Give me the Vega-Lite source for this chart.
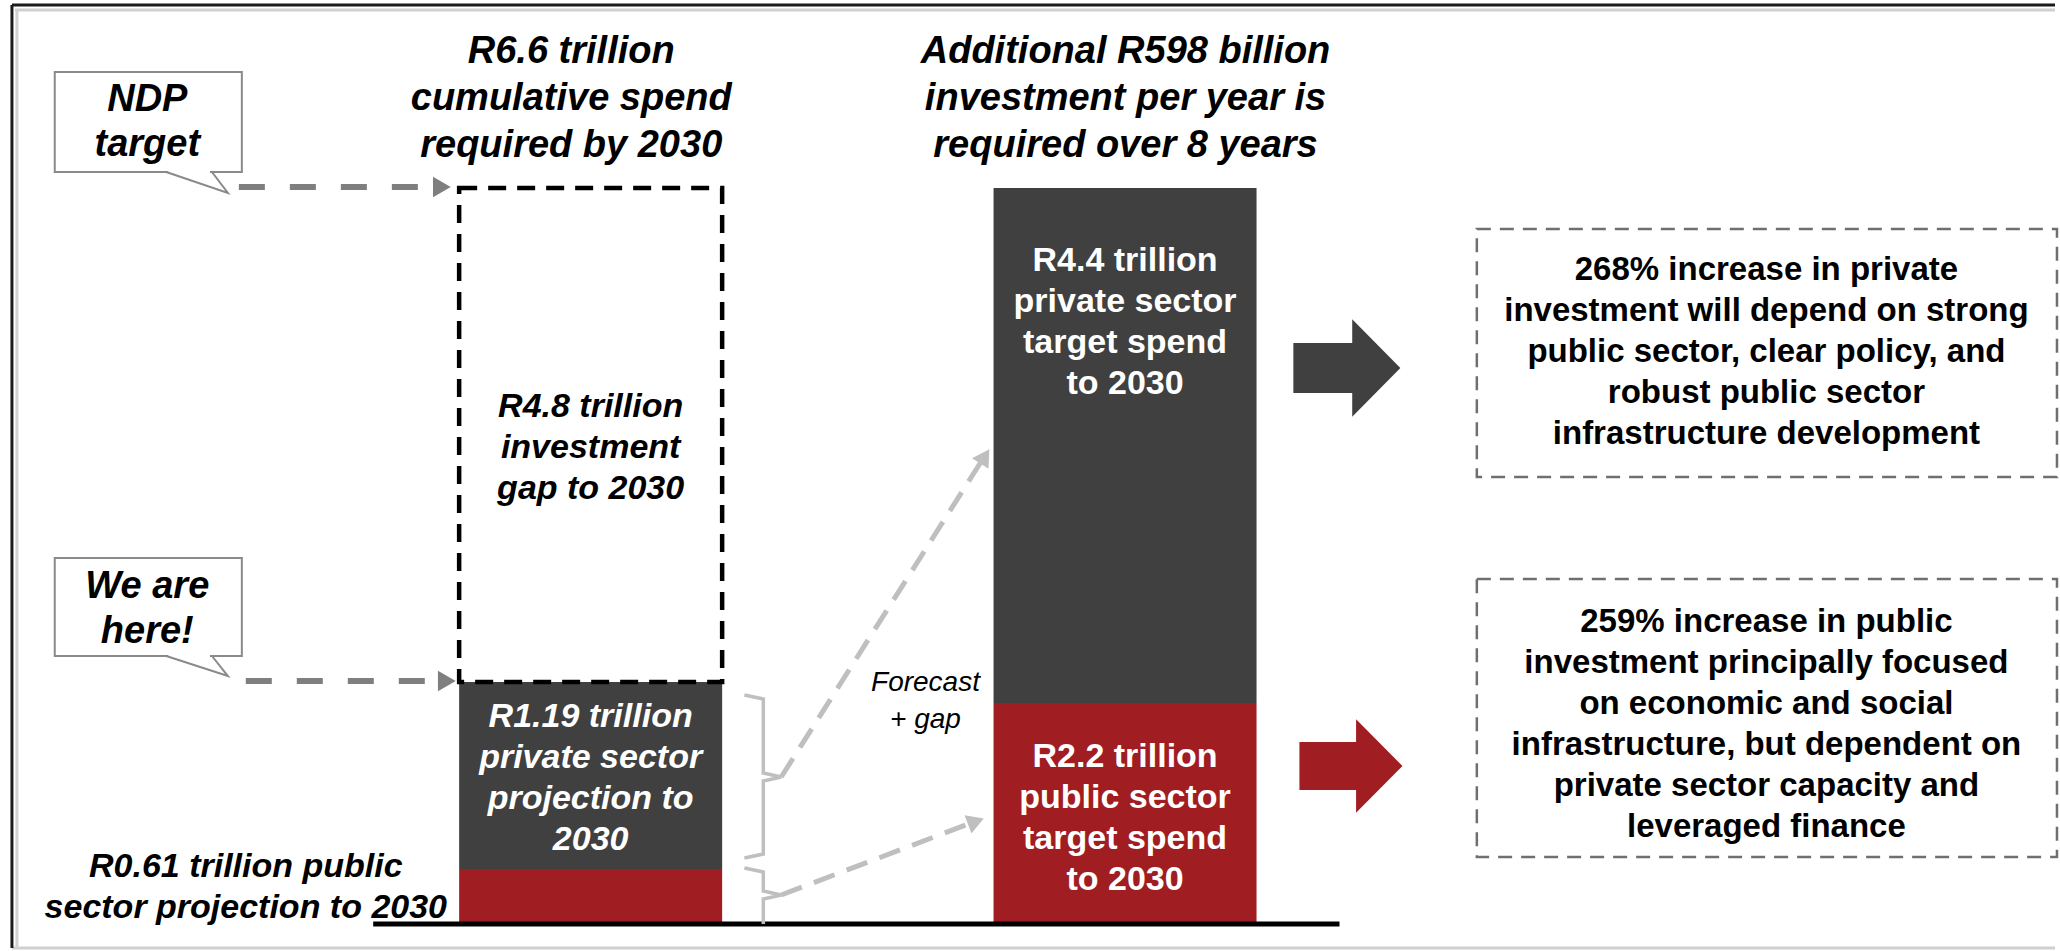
{
  "$schema": "https://vega.github.io/schema/vega-lite/v6.json",
  "width": 2060,
  "height": 951,
  "padding": 0,
  "autosize": {"type": "none"},
  "background": "#ffffff",
  "config": {"view": {"stroke": null}, "font": "Liberation Sans"},
  "datasets": {
    "frameShadow": [
      {"x": -0.0773, "x2": 3.7402, "y": 8.1962, "y2": 8.1962},
      {"x": -0.0736, "x2": -0.0736, "y": 8.1962, "y2": -0.2152},
      {"x": -0.0829, "x2": 3.7402, "y": -0.2152, "y2": -0.2152}
    ],
    "frame": [
      {"x": -0.0829, "x2": 3.7402, "y": 8.241, "y2": 8.241},
      {"x": -0.0829, "x2": -0.0829, "y": 8.241, "y2": -0.2152}
    ],
    "rightBoxes": [
      {"box": "private", "x": 2.6583, "x2": 3.7439, "y": 6.2323, "y2": 4.0084},
      {"box": "public", "x": 2.6583, "x2": 3.7439, "y": 3.0938, "y2": 0.6008}
    ],
    "blockArrows": [
      {"id": "Private sector", "x": 2.4151, "y": 4.9859, "length": 107},
      {"id": "Public sector", "x": 2.4227, "y": 1.4169, "length": 103}
    ],
    "bars": [
      {"bar": 1, "segment": "Public sector", "order": 1, "value": 0.493},
      {"bar": 1, "segment": "Private sector", "order": 2, "value": 1.677},
      {"bar": 1, "segment": "Investment gap", "order": 3, "value": 4.43},
      {"bar": 2, "segment": "Public sector", "order": 1, "value": 1.982},
      {"bar": 2, "segment": "Private sector", "order": 2, "value": 4.618}
    ],
    "baseline": [{"x": 0.5931, "x2": 2.4013, "y": 0}],
    "braces": [
      {"id": "private", "o": 1, "x": 1.2877, "y": 2.0535},
      {"id": "private", "o": 2, "x": 1.3231, "y": 2.0177},
      {"id": "private", "o": 3, "x": 1.3231, "y": 1.3541},
      {"id": "private", "o": 4, "x": 1.3566, "y": 1.3182},
      {"id": "private", "o": 5, "x": 1.3231, "y": 1.2823},
      {"id": "private", "o": 6, "x": 1.3231, "y": 0.6277},
      {"id": "private", "o": 7, "x": 1.2877, "y": 0.5918},
      {"id": "public", "o": 1, "x": 1.2877, "y": 0.5022},
      {"id": "public", "o": 2, "x": 1.3231, "y": 0.4663},
      {"id": "public", "o": 3, "x": 1.3231, "y": 0.2959},
      {"id": "public", "o": 4, "x": 1.3566, "y": 0.2601},
      {"id": "public", "o": 5, "x": 1.3231, "y": 0.2242},
      {"id": "public", "o": 6, "x": 1.3231, "y": 0.0}
    ],
    "lightArrows": [
      {"x": 1.3566, "y": 1.3182, "x2": 1.7291, "y2": 4.134},
      {"x": 1.3566, "y": 0.2601, "x2": 1.7067, "y2": 0.8967}
    ],
    "headUpper": [{"x": 1.7376, "y": 4.1932}],
    "headLower": [{"x": 1.7209, "y": 0.9192}],
    "callouts": [
      {"x": -0.0028, "x2": 0.3473, "y": 7.6402, "y2": 6.7435},
      {"x": -0.0028, "x2": 0.3473, "y": 3.2821, "y2": 2.4033}
    ],
    "tailCovers": [
      {"x": 0.2095, "x2": 0.2877, "y": 6.7435},
      {"x": 0.2095, "x2": 0.2877, "y": 2.4033}
    ],
    "tails": [
      {"id": "a", "o": 1, "x": 0.2058, "y": 6.7435},
      {"id": "a", "o": 2, "x": 0.3212, "y": 6.5552},
      {"id": "a", "o": 3, "x": 0.2914, "y": 6.7435},
      {"id": "b", "o": 1, "x": 0.2058, "y": 2.4033},
      {"id": "b", "o": 2, "x": 0.3212, "y": 2.2239},
      {"id": "b", "o": 3, "x": 0.2914, "y": 2.4033}
    ],
    "grayArrows": [
      {"x": 0.3417, "x2": 0.7086, "y": 6.609},
      {"x": 0.3547, "x2": 0.7179, "y": 2.1791}
    ],
    "grayHeads": [
      {"x": 0.7216, "y": 6.609},
      {"x": 0.7309, "y": 2.1791}
    ],
    "labels": [
      {"group": "title", "label": "R6.6 trillion\ncumulative spend\nrequired by 2030", "x": 0.9637, "y": 7.8196},
      {"group": "title", "label": "Additional R598 billion\ninvestment per year is\nrequired over 8 years", "x": 2.0009, "y": 7.8196},
      {"group": "callout", "label": "NDP\ntarget", "x": 0.1704, "y": 7.3891},
      {"group": "callout", "label": "We are\nhere!", "x": 0.1704, "y": 3.022},
      {"group": "leftWhite", "label": "R1.19 trillion\nprivate sector\nprojection to\n2030", "x": 1.0, "y": 1.8563},
      {"group": "leftBlack", "label": "R4.8 trillion\ninvestment\ngap to 2030", "x": 1.0, "y": 4.6362},
      {"group": "leftBlack", "label": "R0.61 trillion public\nsector projection to 2030", "x": 0.3547, "y": 0.5111},
      {"group": "rightWhite", "label": "R4.4 trillion\nprivate sector\ntarget spend\nto 2030", "x": 2.0, "y": 5.9454},
      {"group": "rightWhite", "label": "R2.2 trillion\npublic sector\ntarget spend\nto 2030", "x": 2.0, "y": 1.4976},
      {"group": "note", "label": "Forecast\n+ gap", "x": 1.6266, "y": 2.1612},
      {"group": "box", "label": "268% increase in private\ninvestment will depend on strong\npublic sector, clear policy, and\nrobust public sector\ninfrastructure development", "x": 3.2002, "y": 5.8647},
      {"group": "box", "label": "259% increase in public\ninvestment principally focused\non economic and social\ninfrastructure, but dependent on\nprivate sector capacity and\nleveraged finance", "x": 3.2002, "y": 2.7082}
    ]
  },
  "layer": [
    {
      "data": {"name": "frameShadow"},
      "mark": {"type": "rule", "color": "#d0d0d0", "strokeWidth": 3},
      "encoding": {
        "x": {"field": "x", "type": "quantitative", "scale": {"domain": [-0.0959, 3.7402], "nice": false, "zero": false}, "axis": null},
        "x2": {"field": "x2"},
        "y": {"field": "y", "type": "quantitative", "scale": {"domain": [-0.2421, 8.2859], "nice": false, "zero": false}, "axis": null},
        "y2": {"field": "y2"}
      }
    },
    {
      "data": {"name": "frame"},
      "mark": {"type": "rule", "color": "#1a1a1a", "strokeWidth": 3},
      "encoding": {
        "x": {"field": "x", "type": "quantitative", "scale": {"domain": [-0.0959, 3.7402], "nice": false, "zero": false}, "axis": null},
        "x2": {"field": "x2"},
        "y": {"field": "y", "type": "quantitative", "scale": {"domain": [-0.2421, 8.2859], "nice": false, "zero": false}, "axis": null},
        "y2": {"field": "y2"}
      }
    },
    {
      "data": {"name": "rightBoxes"},
      "mark": {"type": "rect", "filled": false, "color": "#6f6f6f", "strokeWidth": 2.5, "strokeDash": [14, 9]},
      "encoding": {
        "x": {"field": "x", "type": "quantitative", "scale": {"domain": [-0.0959, 3.7402], "nice": false, "zero": false}, "axis": null},
        "x2": {"field": "x2"},
        "y": {"field": "y", "type": "quantitative", "scale": {"domain": [-0.2421, 8.2859], "nice": false, "zero": false}, "axis": null},
        "y2": {"field": "y2"}
      }
    },
    {
      "data": {"name": "blockArrows"},
      "mark": {"type": "point", "shape": "M -1 -0.465 L 0.1 -0.465 L 0.1 -0.91 L 1 0 L 0.1 0.91 L 0.1 0.465 L -1 0.465 Z", "filled": true, "opacity": 1, "strokeWidth": 0},
      "encoding": {
        "x": {"field": "x", "type": "quantitative", "scale": {"domain": [-0.0959, 3.7402], "nice": false, "zero": false}, "axis": null},
        "y": {"field": "y", "type": "quantitative", "scale": {"domain": [-0.2421, 8.2859], "nice": false, "zero": false}, "axis": null},
        "size": {"field": "length", "type": "quantitative", "scale": {"type": "pow", "exponent": 2, "domain": [0, 100], "range": [0, 10000]}, "legend": null},
        "color": {"field": "id", "type": "nominal", "scale": {"domain": ["Public sector", "Private sector"], "range": ["#A01D22", "#404040"]}, "legend": null}
      }
    },
    {
      "data": {"name": "bars"},
      "transform": [
        {"stack": "value", "groupby": ["bar"], "sort": [{"field": "order", "order": "ascending"}], "as": ["y0", "y1"]}
      ],
      "layer": [
        {
          "transform": [{"filter": "datum.segment !== 'Investment gap'"}],
          "mark": {"type": "bar", "width": 263},
          "encoding": {
            "x": {"field": "bar", "type": "quantitative", "scale": {"domain": [-0.0959, 3.7402], "nice": false, "zero": false}, "axis": null},
            "y": {"field": "y0", "type": "quantitative", "scale": {"domain": [-0.2421, 8.2859], "nice": false, "zero": false}, "axis": null},
            "y2": {"field": "y1"},
            "color": {"field": "segment", "type": "nominal", "scale": {"domain": ["Public sector", "Private sector"], "range": ["#A01D22", "#404040"]}, "legend": null}
          }
        },
        {
          "transform": [{"filter": "datum.segment === 'Investment gap'"}],
          "mark": {"type": "bar", "width": 263, "filled": false, "color": "#000000", "strokeWidth": 4.5, "strokeDash": [18, 11]},
          "encoding": {
            "x": {"field": "bar", "type": "quantitative", "scale": {"domain": [-0.0959, 3.7402], "nice": false, "zero": false}, "axis": null},
            "y": {"field": "y0", "type": "quantitative", "scale": {"domain": [-0.2421, 8.2859], "nice": false, "zero": false}, "axis": null},
            "y2": {"field": "y1"}
          }
        }
      ]
    },
    {
      "data": {"name": "baseline"},
      "mark": {"type": "rule", "color": "#000000", "strokeWidth": 5},
      "encoding": {
        "x": {"field": "x", "type": "quantitative", "scale": {"domain": [-0.0959, 3.7402], "nice": false, "zero": false}, "axis": null},
        "x2": {"field": "x2"},
        "y": {"field": "y", "type": "quantitative", "scale": {"domain": [-0.2421, 8.2859], "nice": false, "zero": false}, "axis": null}
      }
    },
    {
      "data": {"name": "braces"},
      "mark": {"type": "line", "color": "#BFBFBF", "strokeWidth": 3.5, "interpolate": "linear"},
      "encoding": {
        "x": {"field": "x", "type": "quantitative", "scale": {"domain": [-0.0959, 3.7402], "nice": false, "zero": false}, "axis": null},
        "y": {"field": "y", "type": "quantitative", "scale": {"domain": [-0.2421, 8.2859], "nice": false, "zero": false}, "axis": null},
        "detail": {"field": "id", "type": "nominal"},
        "order": {"field": "o", "type": "quantitative"}
      }
    },
    {
      "data": {"name": "lightArrows"},
      "mark": {"type": "rule", "color": "#BFBFBF", "strokeWidth": 5, "strokeDash": [22, 13]},
      "encoding": {
        "x": {"field": "x", "type": "quantitative", "scale": {"domain": [-0.0959, 3.7402], "nice": false, "zero": false}, "axis": null},
        "x2": {"field": "x2"},
        "y": {"field": "y", "type": "quantitative", "scale": {"domain": [-0.2421, 8.2859], "nice": false, "zero": false}, "axis": null},
        "y2": {"field": "y2"}
      }
    },
    {
      "data": {"name": "headUpper"},
      "mark": {"type": "point", "shape": "triangle-up", "filled": true, "size": 380, "color": "#BFBFBF", "opacity": 1, "angle": 32.5},
      "encoding": {
        "x": {"field": "x", "type": "quantitative", "scale": {"domain": [-0.0959, 3.7402], "nice": false, "zero": false}, "axis": null},
        "y": {"field": "y", "type": "quantitative", "scale": {"domain": [-0.2421, 8.2859], "nice": false, "zero": false}, "axis": null}
      }
    },
    {
      "data": {"name": "headLower"},
      "mark": {"type": "point", "shape": "triangle-up", "filled": true, "size": 380, "color": "#BFBFBF", "opacity": 1, "angle": 69.4},
      "encoding": {
        "x": {"field": "x", "type": "quantitative", "scale": {"domain": [-0.0959, 3.7402], "nice": false, "zero": false}, "axis": null},
        "y": {"field": "y", "type": "quantitative", "scale": {"domain": [-0.2421, 8.2859], "nice": false, "zero": false}, "axis": null}
      }
    },
    {
      "data": {"name": "callouts"},
      "mark": {"type": "rect", "fill": "#ffffff", "stroke": "#8a8a8a", "strokeWidth": 2},
      "encoding": {
        "x": {"field": "x", "type": "quantitative", "scale": {"domain": [-0.0959, 3.7402], "nice": false, "zero": false}, "axis": null},
        "x2": {"field": "x2"},
        "y": {"field": "y", "type": "quantitative", "scale": {"domain": [-0.2421, 8.2859], "nice": false, "zero": false}, "axis": null},
        "y2": {"field": "y2"}
      }
    },
    {
      "data": {"name": "tailCovers"},
      "mark": {"type": "rule", "color": "#ffffff", "strokeWidth": 4},
      "encoding": {
        "x": {"field": "x", "type": "quantitative", "scale": {"domain": [-0.0959, 3.7402], "nice": false, "zero": false}, "axis": null},
        "x2": {"field": "x2"},
        "y": {"field": "y", "type": "quantitative", "scale": {"domain": [-0.2421, 8.2859], "nice": false, "zero": false}, "axis": null}
      }
    },
    {
      "data": {"name": "tails"},
      "mark": {"type": "line", "color": "#8a8a8a", "strokeWidth": 2},
      "encoding": {
        "x": {"field": "x", "type": "quantitative", "scale": {"domain": [-0.0959, 3.7402], "nice": false, "zero": false}, "axis": null},
        "y": {"field": "y", "type": "quantitative", "scale": {"domain": [-0.2421, 8.2859], "nice": false, "zero": false}, "axis": null},
        "detail": {"field": "id", "type": "nominal"},
        "order": {"field": "o", "type": "quantitative"}
      }
    },
    {
      "data": {"name": "grayArrows"},
      "mark": {"type": "rule", "color": "#7f7f7f", "strokeWidth": 6, "strokeDash": [26, 25]},
      "encoding": {
        "x": {"field": "x", "type": "quantitative", "scale": {"domain": [-0.0959, 3.7402], "nice": false, "zero": false}, "axis": null},
        "x2": {"field": "x2"},
        "y": {"field": "y", "type": "quantitative", "scale": {"domain": [-0.2421, 8.2859], "nice": false, "zero": false}, "axis": null}
      }
    },
    {
      "data": {"name": "grayHeads"},
      "mark": {"type": "point", "shape": "triangle-right", "filled": true, "size": 420, "color": "#7f7f7f", "opacity": 1},
      "encoding": {
        "x": {"field": "x", "type": "quantitative", "scale": {"domain": [-0.0959, 3.7402], "nice": false, "zero": false}, "axis": null},
        "y": {"field": "y", "type": "quantitative", "scale": {"domain": [-0.2421, 8.2859], "nice": false, "zero": false}, "axis": null}
      }
    },
    {
      "data": {"name": "labels"},
      "transform": [{"filter": "datum.group === 'title'"}],
      "mark": {"type": "text", "font": "Liberation Sans", "fontSize": 38, "fontWeight": "bold", "fontStyle": "italic", "color": "#000000", "align": "center", "baseline": "middle", "lineBreak": "\n", "lineHeight": 47},
      "encoding": {
        "x": {"field": "x", "type": "quantitative", "scale": {"domain": [-0.0959, 3.7402], "nice": false, "zero": false}, "axis": null},
        "y": {"field": "y", "type": "quantitative", "scale": {"domain": [-0.2421, 8.2859], "nice": false, "zero": false}, "axis": null},
        "text": {"field": "label", "type": "nominal"}
      }
    },
    {
      "data": {"name": "labels"},
      "transform": [{"filter": "datum.group === 'callout'"}],
      "mark": {"type": "text", "font": "Liberation Sans", "fontSize": 38, "fontWeight": "bold", "fontStyle": "italic", "color": "#000000", "align": "center", "baseline": "middle", "lineBreak": "\n", "lineHeight": 45},
      "encoding": {
        "x": {"field": "x", "type": "quantitative", "scale": {"domain": [-0.0959, 3.7402], "nice": false, "zero": false}, "axis": null},
        "y": {"field": "y", "type": "quantitative", "scale": {"domain": [-0.2421, 8.2859], "nice": false, "zero": false}, "axis": null},
        "text": {"field": "label", "type": "nominal"}
      }
    },
    {
      "data": {"name": "labels"},
      "transform": [{"filter": "datum.group === 'leftWhite'"}],
      "mark": {"type": "text", "font": "Liberation Sans", "fontSize": 34, "fontWeight": "bold", "fontStyle": "italic", "color": "#ffffff", "align": "center", "baseline": "middle", "lineBreak": "\n", "lineHeight": 41},
      "encoding": {
        "x": {"field": "x", "type": "quantitative", "scale": {"domain": [-0.0959, 3.7402], "nice": false, "zero": false}, "axis": null},
        "y": {"field": "y", "type": "quantitative", "scale": {"domain": [-0.2421, 8.2859], "nice": false, "zero": false}, "axis": null},
        "text": {"field": "label", "type": "nominal"}
      }
    },
    {
      "data": {"name": "labels"},
      "transform": [{"filter": "datum.group === 'leftBlack'"}],
      "mark": {"type": "text", "font": "Liberation Sans", "fontSize": 34, "fontWeight": "bold", "fontStyle": "italic", "color": "#000000", "align": "center", "baseline": "middle", "lineBreak": "\n", "lineHeight": 41},
      "encoding": {
        "x": {"field": "x", "type": "quantitative", "scale": {"domain": [-0.0959, 3.7402], "nice": false, "zero": false}, "axis": null},
        "y": {"field": "y", "type": "quantitative", "scale": {"domain": [-0.2421, 8.2859], "nice": false, "zero": false}, "axis": null},
        "text": {"field": "label", "type": "nominal"}
      }
    },
    {
      "data": {"name": "labels"},
      "transform": [{"filter": "datum.group === 'rightWhite'"}],
      "mark": {"type": "text", "font": "Liberation Sans", "fontSize": 34, "fontWeight": "bold", "color": "#ffffff", "align": "center", "baseline": "middle", "lineBreak": "\n", "lineHeight": 41},
      "encoding": {
        "x": {"field": "x", "type": "quantitative", "scale": {"domain": [-0.0959, 3.7402], "nice": false, "zero": false}, "axis": null},
        "y": {"field": "y", "type": "quantitative", "scale": {"domain": [-0.2421, 8.2859], "nice": false, "zero": false}, "axis": null},
        "text": {"field": "label", "type": "nominal"}
      }
    },
    {
      "data": {"name": "labels"},
      "transform": [{"filter": "datum.group === 'note'"}],
      "mark": {"type": "text", "font": "Liberation Sans", "fontSize": 28, "fontStyle": "italic", "color": "#000000", "align": "center", "baseline": "middle", "lineBreak": "\n", "lineHeight": 37},
      "encoding": {
        "x": {"field": "x", "type": "quantitative", "scale": {"domain": [-0.0959, 3.7402], "nice": false, "zero": false}, "axis": null},
        "y": {"field": "y", "type": "quantitative", "scale": {"domain": [-0.2421, 8.2859], "nice": false, "zero": false}, "axis": null},
        "text": {"field": "label", "type": "nominal"}
      }
    },
    {
      "data": {"name": "labels"},
      "transform": [{"filter": "datum.group === 'box'"}],
      "mark": {"type": "text", "font": "Liberation Sans", "fontSize": 33, "fontWeight": "bold", "color": "#000000", "align": "center", "baseline": "middle", "lineBreak": "\n", "lineHeight": 41},
      "encoding": {
        "x": {"field": "x", "type": "quantitative", "scale": {"domain": [-0.0959, 3.7402], "nice": false, "zero": false}, "axis": null},
        "y": {"field": "y", "type": "quantitative", "scale": {"domain": [-0.2421, 8.2859], "nice": false, "zero": false}, "axis": null},
        "text": {"field": "label", "type": "nominal"}
      }
    }
  ]
}
